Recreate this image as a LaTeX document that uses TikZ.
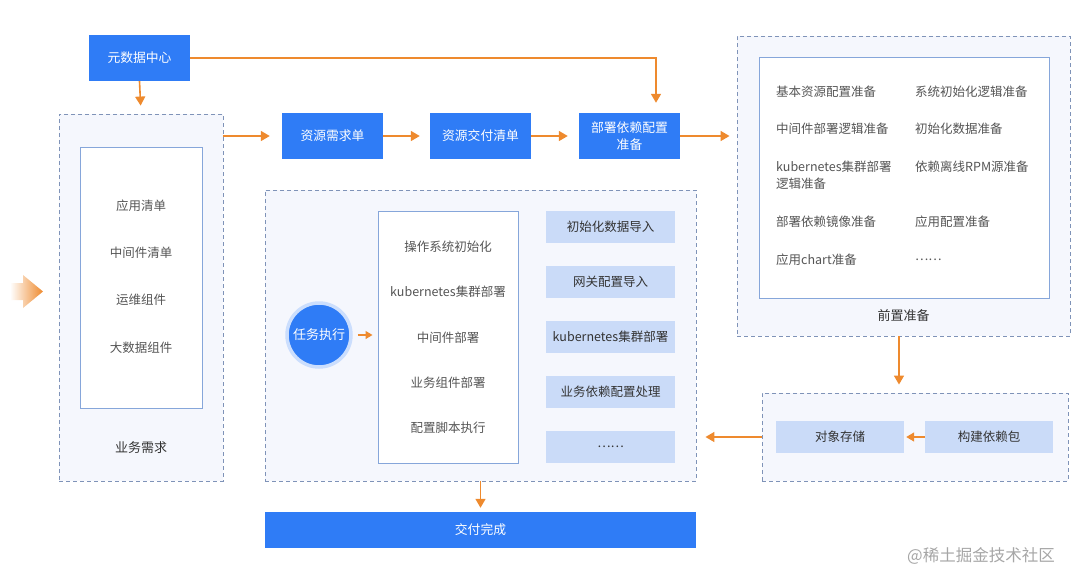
\documentclass[tikz,border=0pt]{standalone}
\usepackage{fontspec}
\setmainfont{Noto Sans CJK SC}
\usetikzlibrary{arrows.meta,positioning,calc}
\definecolor{mainblue}{HTML}{2F7CF6}
\definecolor{lightblue}{HTML}{CADBF8}
\definecolor{panel}{HTML}{F5F7FD}
\definecolor{dashc}{HTML}{7F93B8}
\definecolor{innerc}{HTML}{86A6DA}
\definecolor{orng}{HTML}{EE8A2E}
\definecolor{txtg}{HTML}{555555}
\definecolor{txtd}{HTML}{333333}
\tikzset{
  bluebox/.style={fill=mainblue, text=white, minimum width=101pt, minimum height=46pt, inner sep=0pt, align=center, font=\fontsize{12.8}{16.5}\selectfont},
  panelbox/.style={fill=panel, draw=dashc, dash pattern=on 4pt off 3pt, line width=0.9pt, inner sep=0pt},
  innerbox/.style={fill=white, draw=innerc, line width=1pt, inner sep=0pt},
  lightbox/.style={fill=lightblue, text=txtd, minimum width=129pt, minimum height=32pt, inner sep=0pt, font=\fontsize{12.5}{15}\selectfont},
  item/.style={text=txtg, inner sep=0pt, font=\fontsize{12.5}{17}\selectfont},
  lbl/.style={text=txtd, inner sep=0pt, font=\fontsize{13}{15}\selectfont},
  flow/.style={draw=orng, line width=1.6pt, -{Triangle[length=9pt,width=10pt]}},
}
\begin{document}
\begin{tikzpicture}[x=1pt,y=-1pt]
\useasboundingbox (0,0) rectangle (1080,584);
% gradient arrow on the left
\shade[left color=white, right color=orng, shading angle=90] (10,283) -- (23,283) -- (23,275) -- (43,291.5) -- (23,308) -- (23,300) -- (10,300) -- cycle;

% top row
\node[bluebox] (meta) at (139.5,58) {元数据中心};
\node[panelbox, minimum width=164pt, minimum height=367pt] (yewu) at (141,297.5) {};
\node[innerbox, minimum width=122pt, minimum height=261pt] (yewulist) at (141,277.5) {};
\node[item] (y1) at (141,206) {应用清单};
\node[item] (y2) at (141,253) {中间件清单};
\node[item] (y3) at (141,300) {运维组件};
\node[item] (y4) at (141,348) {大数据组件};
\node[lbl] (yl) at (141,448) {业务需求};

\node[bluebox] (req) at (332.5,136) {资源需求单};
\node[bluebox] (deliv) at (480.5,136) {资源交付清单};
\node[bluebox] (deploy) at (629.5,136) {部署依赖配置\\准备};

% prep panel
\node[panelbox, minimum width=333pt, minimum height=300pt] (prep) at (903.5,186) {};
\node[innerbox, minimum width=290pt, minimum height=241pt] (preplist) at (904,177.5) {};
\node[item, anchor=west] (p1) at (776,92) {基本资源配置准备};
\node[item, anchor=west] (p2) at (776,129) {中间件部署逻辑准备};
\node[item, anchor=west, align=left] (p3) at (776,175.5) {kubernetes集群部署\\逻辑准备};
\node[item, anchor=west] (p4) at (776,222) {部署依赖镜像准备};
\node[item, anchor=west] (p5) at (776,260) {应用chart准备};
\node[item, anchor=west] (q1) at (915,92) {系统初始化逻辑准备};
\node[item, anchor=west] (q2) at (915,129) {初始化数据准备};
\node[item, anchor=west] (q3) at (915,167) {依赖离线RPM源准备};
\node[item, anchor=west] (q4) at (915,222) {应用配置准备};
\node[item, anchor=west] (q5) at (915,260) {……};
\node[lbl] (pl) at (903.5,316) {前置准备};

% build panel
\node[panelbox, minimum width=306pt, minimum height=88pt] (build) at (915,437) {};
\node[lightbox, minimum width=128pt] (obj) at (840,437) {对象存储};
\node[lightbox, minimum width=128pt] (pkg) at (989,437) {构建依赖包};

% execution panel
\node[panelbox, minimum width=431pt, minimum height=291pt] (exec) at (480.5,335.5) {};
\node[circle, fill=mainblue, draw=mainblue!25, line width=3.5pt, minimum size=64pt, inner sep=0pt, text=white, font=\fontsize{13}{15}\selectfont] (task) at (319,335) {任务执行};
\node[innerbox, minimum width=140pt, minimum height=252pt] (tasklist) at (448,337) {};
\node[item] (t1) at (448,247) {操作系统初始化};
\node[item] (t2) at (448,292) {kubernetes集群部署};
\node[item] (t3) at (448,338) {中间件部署};
\node[item] (t4) at (448,383) {业务组件部署};
\node[item] (t5) at (448,428) {配置脚本执行};
\node[lightbox] (r1) at (610.5,227) {初始化数据导入};
\node[lightbox] (r2) at (610.5,282) {网关配置导入};
\node[lightbox] (r3) at (610.5,337) {kubernetes集群部署};
\node[lightbox] (r4) at (610.5,392) {业务依赖配置处理};
\node[lightbox] (r5) at (610.5,447) {……};

\node[bluebox, minimum width=431pt, minimum height=36pt] (done) at (480.5,530) {交付完成};

\node[text=black!35, inner sep=0pt, font=\fontsize{16.5}{18}\selectfont] (wm) at (981,556) {@稀土掘金技术社区};

% connectors
\coordinate (turn) at (656,58);
\draw[flow, shorten >=8pt] (meta.south) -- (yewu.north);
\draw[flow, shorten >=10pt] (meta.east) -- (turn) -- (turn |- deploy.north);
\draw[flow, shorten >=12pt] (yewu.east |- req.west) -- (req.west);
\draw[flow, shorten >=10pt] (req.east) -- (deliv.west);
\draw[flow, shorten >=11pt] (deliv.east) -- (deploy.west);
\draw[flow, shorten >=7pt] (deploy.east) -- (deploy.east -| prep.west);
\draw[flow, shorten >=8pt] (prep.south -| 899,0) -- (build.north -| 899,0);
\draw[flow, line width=1.4pt, -{Triangle[length=8pt,width=9pt]}, shorten >=2pt] (pkg.west) -- (obj.east);
\draw[flow, shorten >=9pt] (build.west) -- (build.west -| exec.east);
\draw[flow, line width=1.4pt, -{Triangle[length=7pt,width=8pt]}, shorten <=5pt, shorten >=5pt] (task.east) -- (task.east -| tasklist.west);
\draw[flow, shorten >=4pt] (exec.south) -- (done.north);
\end{tikzpicture}
\end{document}
